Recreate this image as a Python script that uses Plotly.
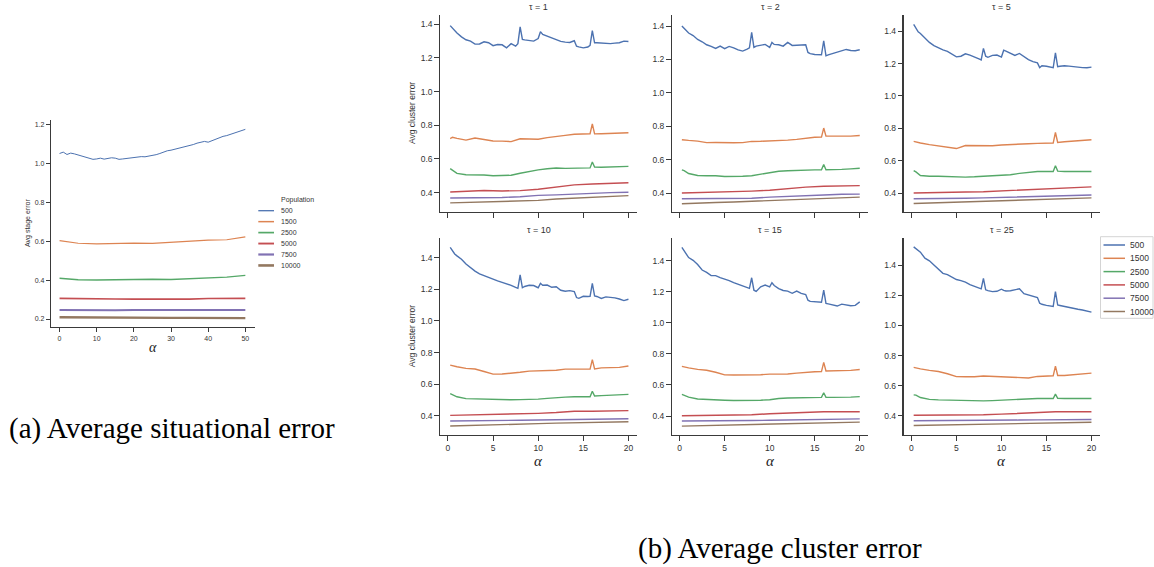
import plotly.graph_objects as go

W, H = 1154, 567

# ---------------- data ----------------
populations = ["500", "1500", "2500", "5000", "7500", "10000"]
colors = ["#4C72B0", "#DD8452", "#55A868", "#C44E52", "#8172B3", "#937860"]
taus = ["1", "2", "5", "10", "15", "25"]

# panel (a): average situational (stage) error vs alpha
alpha_a_fine = list(range(0, 51))
alpha_a = [0, 5, 10, 15, 20, 25, 30, 35, 40, 45, 50]
a_500 = [1.05, 1.057, 1.045, 1.052, 1.048, 1.042, 1.035, 1.028, 1.022, 1.02, 1.022,
         1.026, 1.021, 1.024, 1.028, 1.026, 1.02, 1.022, 1.025, 1.027, 1.03, 1.032,
         1.034, 1.033, 1.036, 1.04, 1.044, 1.05, 1.058, 1.064, 1.067, 1.072, 1.076,
         1.078, 1.085, 1.09, 1.096, 1.103, 1.108, 1.112, 1.108, 1.115, 1.124, 1.133,
         1.138, 1.142, 1.148, 1.155, 1.162, 1.168, 1.174]
a_1500 = [0.603, 0.589, 0.586, 0.588, 0.59, 0.588, 0.594, 0.602, 0.605, 0.607, 0.622]
a_2500 = [0.409, 0.402, 0.4, 0.402, 0.404, 0.404, 0.403, 0.406, 0.41, 0.415, 0.424]
a_5000 = [0.306, 0.304, 0.305, 0.303, 0.302, 0.301, 0.302, 0.302, 0.305, 0.304, 0.306]
a_7500 = [0.246, 0.245, 0.245, 0.245, 0.246, 0.246, 0.246, 0.247, 0.247, 0.245, 0.246]
a_10000 = [0.209, 0.208, 0.207, 0.207, 0.206, 0.206, 0.206, 0.206, 0.206, 0.205, 0.205]

# panel (b): average cluster error vs alpha, one subplot per tau
alpha_b_fine = [0.25, 0.5, 0.75, 1, 1.5, 2, 2.5, 3, 3.5, 4, 4.5, 5, 5.5, 6, 6.5, 7, 7.5,
                7.75, 8, 8.25, 8.5, 9, 9.5, 10, 10.25, 10.5, 11, 11.5, 12, 12.5, 13,
                13.5, 14, 14.25, 14.5, 15, 15.5, 15.75, 16, 16.25, 16.5, 17, 17.5, 18,
                18.5, 19, 19.5, 20]
alpha_b_mid = [0.25, 0.5, 1, 2, 3, 4, 5, 6, 7, 8, 9, 10, 11, 12, 13, 14, 15, 15.75,
               16, 16.25, 17, 18, 19, 20]
alpha_b_coarse = [0.25, 2, 4, 6, 8, 10, 12, 14, 16, 18, 20]

t1_500 = [1.392, 1.375, 1.358, 1.348, 1.325, 1.308, 1.30, 1.282, 1.283, 1.296, 1.29,
          1.273, 1.28, 1.278, 1.26, 1.285, 1.27, 1.285, 1.384, 1.31, 1.307, 1.304,
          1.30, 1.315, 1.356, 1.34, 1.33, 1.318, 1.312, 1.298, 1.294, 1.292, 1.302,
          1.27, 1.266, 1.26, 1.265, 1.275, 1.362, 1.29, 1.29, 1.288, 1.288, 1.285,
          1.288, 1.29, 1.30, 1.298]
t2_500 = [1.40, 1.385, 1.372, 1.358, 1.343, 1.32, 1.306, 1.288, 1.278, 1.266, 1.28,
          1.265, 1.278, 1.27, 1.257, 1.25, 1.262, 1.27, 1.362, 1.272, 1.28, 1.287,
          1.29, 1.272, 1.302, 1.29, 1.288, 1.28, 1.302, 1.284, 1.284, 1.285, 1.288,
          1.242, 1.235, 1.23, 1.228, 1.228, 1.312, 1.222, 1.228, 1.237, 1.242, 1.255,
          1.26, 1.254, 1.252, 1.258]
t5_500 = [1.441, 1.42, 1.395, 1.385, 1.358, 1.33, 1.31, 1.295, 1.284, 1.275, 1.26,
          1.241, 1.245, 1.26, 1.252, 1.242, 1.228, 1.222, 1.293, 1.245, 1.238, 1.25,
          1.252, 1.24, 1.282, 1.276, 1.262, 1.25, 1.262, 1.241, 1.224, 1.212, 1.204,
          1.175, 1.186, 1.183, 1.176, 1.174, 1.266, 1.18, 1.183, 1.186, 1.184, 1.18,
          1.177, 1.175, 1.174, 1.178]
t10_500 = [1.465, 1.44, 1.424, 1.412, 1.39, 1.36, 1.336, 1.315, 1.298, 1.286, 1.275,
           1.263, 1.253, 1.244, 1.235, 1.225, 1.212, 1.206, 1.291, 1.21, 1.218, 1.226,
           1.224, 1.21, 1.238, 1.226, 1.227, 1.213, 1.216, 1.194, 1.188, 1.192, 1.186,
           1.148, 1.143, 1.156, 1.155, 1.156, 1.238, 1.158, 1.155, 1.142, 1.152, 1.15,
           1.146, 1.139, 1.129, 1.137]
t15_500 = [1.485, 1.462, 1.447, 1.42, 1.402, 1.375, 1.34, 1.325, 1.304, 1.304, 1.291,
           1.283, 1.272, 1.259, 1.248, 1.238, 1.226, 1.222, 1.29, 1.21, 1.202, 1.232,
           1.243, 1.232, 1.258, 1.24, 1.22, 1.208, 1.204, 1.19, 1.204, 1.19, 1.182,
           1.146, 1.138, 1.134, 1.131, 1.132, 1.211, 1.125, 1.122, 1.114, 1.108, 1.12,
           1.116, 1.11, 1.112, 1.135]
t25_500 = [1.52, 1.507, 1.498, 1.485, 1.445, 1.428, 1.40, 1.375, 1.345, 1.337, 1.318,
           1.304, 1.297, 1.287, 1.27, 1.259, 1.248, 1.242, 1.312, 1.236, 1.23, 1.224,
           1.226, 1.24, 1.232, 1.228, 1.23, 1.238, 1.242, 1.21, 1.2, 1.19, 1.185,
           1.147, 1.14, 1.133, 1.127, 1.125, 1.224, 1.135, 1.132, 1.125, 1.117, 1.112,
           1.107, 1.102, 1.094, 1.088]

t1_1500 = [0.721, 0.729, 0.722, 0.712, 0.724, 0.716, 0.707, 0.706, 0.703, 0.72, 0.72,
           0.717, 0.727, 0.732, 0.74, 0.747, 0.75, 0.75, 0.808, 0.749, 0.75, 0.751,
           0.754, 0.756]
t2_1500 = [0.72, 0.718, 0.716, 0.712, 0.703, 0.704, 0.701, 0.702, 0.703, 0.71, 0.711,
           0.712, 0.713, 0.718, 0.722, 0.73, 0.735, 0.736, 0.79, 0.742, 0.741, 0.74,
           0.742, 0.745]
t5_1500 = [0.72, 0.716, 0.71, 0.70, 0.693, 0.684, 0.676, 0.695, 0.695, 0.696, 0.693,
           0.698, 0.702, 0.703, 0.706, 0.708, 0.71, 0.71, 0.775, 0.714, 0.718, 0.722,
           0.726, 0.73]
t10_1500 = [0.72, 0.716, 0.71, 0.70, 0.696, 0.68, 0.663, 0.664, 0.668, 0.675, 0.682,
            0.685, 0.684, 0.688, 0.695, 0.695, 0.695, 0.695, 0.755, 0.696, 0.703, 0.704,
            0.706, 0.715]
t15_1500 = [0.72, 0.716, 0.71, 0.70, 0.695, 0.682, 0.665, 0.664, 0.664, 0.662, 0.666,
            0.67, 0.67, 0.671, 0.676, 0.682, 0.685, 0.686, 0.745, 0.69, 0.69, 0.69,
            0.694, 0.70]
t25_1500 = [0.722, 0.718, 0.712, 0.702, 0.695, 0.68, 0.661, 0.66, 0.66, 0.665, 0.662,
            0.66, 0.656, 0.652, 0.652, 0.662, 0.665, 0.666, 0.73, 0.668, 0.668, 0.675,
            0.682, 0.684]

t1_2500 = [0.543, 0.535, 0.514, 0.506, 0.507, 0.505, 0.50, 0.50, 0.503, 0.515, 0.526,
           0.535, 0.542, 0.546, 0.544, 0.544, 0.546, 0.547, 0.582, 0.552, 0.551, 0.552,
           0.557, 0.556]
t2_2500 = [0.54, 0.535, 0.518, 0.506, 0.505, 0.505, 0.50, 0.50, 0.502, 0.505, 0.515,
           0.525, 0.532, 0.535, 0.538, 0.54, 0.54, 0.54, 0.572, 0.541, 0.541, 0.543,
           0.546, 0.55]
t5_2500 = [0.54, 0.532, 0.51, 0.505, 0.505, 0.503, 0.50, 0.50, 0.502, 0.505, 0.505,
           0.51, 0.515, 0.523, 0.528, 0.535, 0.535, 0.535, 0.57, 0.537, 0.535, 0.535,
           0.535, 0.535]
t10_2500 = [0.54, 0.535, 0.52, 0.508, 0.506, 0.505, 0.501, 0.50, 0.501, 0.502, 0.503,
            0.505, 0.51, 0.515, 0.518, 0.52, 0.52, 0.52, 0.555, 0.525, 0.527, 0.53,
            0.532, 0.535]
t15_2500 = [0.54, 0.535, 0.522, 0.51, 0.506, 0.505, 0.502, 0.50, 0.50, 0.501, 0.502,
            0.505, 0.513, 0.516, 0.518, 0.52, 0.52, 0.52, 0.55, 0.52, 0.52, 0.52,
            0.522, 0.525]
t25_2500 = [0.54, 0.538, 0.522, 0.51, 0.507, 0.505, 0.503, 0.502, 0.501, 0.50, 0.502,
            0.505, 0.51, 0.515, 0.515, 0.516, 0.516, 0.516, 0.545, 0.517, 0.516, 0.516,
            0.516, 0.516]

t1_5000 = [0.404, 0.408, 0.413, 0.41, 0.412, 0.42, 0.435, 0.446, 0.451, 0.453, 0.459]
t2_5000 = [0.402, 0.404, 0.41, 0.409, 0.413, 0.418, 0.428, 0.437, 0.442, 0.445, 0.446]
t5_5000 = [0.402, 0.405, 0.407, 0.408, 0.41, 0.415, 0.42, 0.427, 0.432, 0.435, 0.44]
t10_5000 = [0.402, 0.404, 0.405, 0.407, 0.41, 0.415, 0.42, 0.428, 0.428, 0.428, 0.432]
t15_5000 = [0.402, 0.403, 0.405, 0.406, 0.408, 0.415, 0.42, 0.426, 0.428, 0.428, 0.428]
t25_5000 = [0.405, 0.405, 0.405, 0.407, 0.408, 0.412, 0.418, 0.425, 0.428, 0.428, 0.428]

t1_7500 = [0.368, 0.368, 0.37, 0.371, 0.376, 0.384, 0.387, 0.392, 0.396, 0.40, 0.402]
t2_7500 = [0.367, 0.367, 0.368, 0.368, 0.37, 0.377, 0.38, 0.385, 0.39, 0.394, 0.395]
t5_7500 = [0.367, 0.367, 0.369, 0.37, 0.372, 0.375, 0.378, 0.38, 0.383, 0.386, 0.39]
t10_7500 = [0.367, 0.367, 0.369, 0.37, 0.371, 0.373, 0.374, 0.376, 0.378, 0.38, 0.381]
t15_7500 = [0.368, 0.368, 0.369, 0.37, 0.371, 0.373, 0.375, 0.377, 0.378, 0.38, 0.382]
t25_7500 = [0.368, 0.368, 0.369, 0.37, 0.371, 0.372, 0.373, 0.374, 0.375, 0.376, 0.377]

t1_10000 = [0.339, 0.342, 0.345, 0.347, 0.349, 0.354, 0.362, 0.368, 0.372, 0.378, 0.382]
t2_10000 = [0.337, 0.342, 0.345, 0.348, 0.352, 0.355, 0.358, 0.366, 0.37, 0.374, 0.377]
t5_10000 = [0.337, 0.34, 0.343, 0.346, 0.349, 0.352, 0.355, 0.36, 0.364, 0.368, 0.372]
t10_10000 = [0.335, 0.337, 0.34, 0.343, 0.346, 0.35, 0.353, 0.355, 0.358, 0.36, 0.362]
t15_10000 = [0.335, 0.337, 0.34, 0.342, 0.345, 0.348, 0.351, 0.354, 0.357, 0.359, 0.361]
t25_10000 = [0.337, 0.339, 0.341, 0.343, 0.345, 0.348, 0.351, 0.354, 0.356, 0.357, 0.358]

a_x_ticks = [0, 10, 20, 30, 40, 50]
a_y_ticks = [0.2, 0.4, 0.6, 0.8, 1.0, 1.2]
b_x_ticks = [0, 5, 10, 15, 20]
b_y_ticks = [0.4, 0.6, 0.8, 1.0, 1.2, 1.4]

# ---------------- layout helpers ----------------
def fx(px):
    return px / W


def fy(py):
    return 1 - py / H


SANS = "Liberation Sans, Arial, sans-serif"
SERIF = "Liberation Serif, Times New Roman, serif"
AXC = "#3a3a3a"
TXT = "#333333"

fig = go.Figure()

# panel (a)
a_series = [(alpha_a_fine, a_500), (alpha_a, a_1500), (alpha_a, a_2500),
            (alpha_a, a_5000), (alpha_a, a_7500), (alpha_a, a_10000)]
a_widths = [1.0, 1.2, 1.4, 1.6, 1.9, 2.3]
for i, (xs, ys) in enumerate(a_series):
    fig.add_trace(go.Scatter(x=xs, y=ys, mode="lines", name=populations[i],
                             line=dict(color=colors[i], width=a_widths[i]),
                             xaxis="x", yaxis="y", showlegend=False))

# panel (b)
b_data = {
    "1": [t1_500, t1_1500, t1_2500, t1_5000, t1_7500, t1_10000],
    "2": [t2_500, t2_1500, t2_2500, t2_5000, t2_7500, t2_10000],
    "5": [t5_500, t5_1500, t5_2500, t5_5000, t5_7500, t5_10000],
    "10": [t10_500, t10_1500, t10_2500, t10_5000, t10_7500, t10_10000],
    "15": [t15_500, t15_1500, t15_2500, t15_5000, t15_7500, t15_10000],
    "25": [t25_500, t25_1500, t25_2500, t25_5000, t25_7500, t25_10000],
}
b_xgrids = [alpha_b_fine, alpha_b_mid, alpha_b_mid, alpha_b_coarse, alpha_b_coarse,
            alpha_b_coarse]

col_px = [(440, 637), (671.7, 868.3), (903.5, 1100)]
row_px = [(15, 212), (238.3, 435)]
y_ranges = [[0.285, 1.455], [0.288, 1.466], [0.285, 1.499],
            [0.278, 1.523], [0.278, 1.544], [0.274, 1.577]]
x_range_b = [-0.88, 20.95]

layout_axes = {}
layout_axes["xaxis"] = dict(domain=[fx(51), fx(255)], range=[-2.3, 52.6],
                            anchor="y", tickvals=a_x_ticks)
layout_axes["yaxis"] = dict(domain=[fy(327), fy(120)], range=[0.159, 1.222],
                            anchor="x", tickvals=a_y_ticks,
                            ticktext=[f"{v:.1f}" for v in a_y_ticks])

annotations = []
shapes = []

for k, tau in enumerate(taus):
    r, c = divmod(k, 3)
    n = k + 2
    xa, ya = f"x{n}", f"y{n}"
    for i, ys in enumerate(b_data[tau]):
        fig.add_trace(go.Scatter(x=b_xgrids[i], y=ys, mode="lines",
                                 name=populations[i],
                                 line=dict(color=colors[i], width=1.4),
                                 xaxis=xa, yaxis=ya, showlegend=False))
    x0, x1 = col_px[c]
    y0, y1 = row_px[r]
    layout_axes[f"xaxis{n}"] = dict(domain=[fx(x0), fx(x1)], range=x_range_b,
                                    anchor=ya, tickvals=b_x_ticks,
                                    showticklabels=(r == 1))
    layout_axes[f"yaxis{n}"] = dict(domain=[fy(y1), fy(y0)], range=y_ranges[k],
                                    anchor=xa, tickvals=b_y_ticks,
                                    ticktext=[f"{v:.1f}" for v in b_y_ticks])
    annotations.append(dict(text=f"τ = {tau}", x=fx((x0 + x1) / 2), y=fy(y0 - 8),
                            xref="paper", yref="paper", showarrow=False,
                            font=dict(family=SANS, size=9, color=TXT),
                            xanchor="center", yanchor="middle"))
    if c == 0:
        annotations.append(dict(text="Avg cluster error", x=fx(411.5),
                                y=fy((y0 + y1) / 2), xref="paper", yref="paper",
                                showarrow=False, textangle=-90,
                                font=dict(family=SANS, size=8.5, color=TXT),
                                xanchor="center", yanchor="middle"))
    if r == 1:
        annotations.append(dict(text="<i>α</i>", x=fx((x0 + x1) / 2), y=fy(461),
                                xref="paper", yref="paper", showarrow=False,
                                font=dict(family=SERIF, size=15, color="#222"),
                                xanchor="center", yanchor="middle"))

for name, ax in layout_axes.items():
    small = name in ("xaxis", "yaxis")
    ax.update(showline=True, linecolor=AXC, linewidth=1.2, ticks="outside",
              ticklen=4 if small else 4.5, tickwidth=1, tickcolor=AXC,
              showgrid=False, zeroline=False,
              tickfont=dict(family=SANS, size=7 if small else 8.5, color=TXT))
fig.update_layout(**layout_axes)

# panel (a) axis labels
annotations.append(dict(text="Avg stage error", x=fx(27.5), y=fy(223.5),
                        xref="paper", yref="paper", showarrow=False, textangle=-90,
                        font=dict(family=SANS, size=7, color=TXT),
                        xanchor="center", yanchor="middle"))
annotations.append(dict(text="<i>α</i>", x=fx(153), y=fy(347), xref="paper",
                        yref="paper", showarrow=False,
                        font=dict(family=SERIF, size=14, color="#222"),
                        xanchor="center", yanchor="middle"))

# legend for panel (a)
annotations.append(dict(text="Population", x=fx(278.5), y=fy(200), xref="paper",
                        yref="paper", showarrow=False, xanchor="left",
                        yanchor="middle", font=dict(family=SANS, size=7, color=TXT)))
for i, pop in enumerate(populations):
    yy = 210.7 + 10.95 * i
    shapes.append(dict(type="line", xref="paper", yref="paper", x0=fx(258.3),
                       x1=fx(274), y0=fy(yy), y1=fy(yy),
                       line=dict(color=colors[i], width=a_widths[i] + 0.3)))
    annotations.append(dict(text=pop, x=fx(278.5), y=fy(yy), xref="paper",
                            yref="paper", showarrow=False, xanchor="left",
                            yanchor="middle",
                            font=dict(family=SANS, size=7, color=TXT)))

# legend for panel (b)
shapes.append(dict(type="rect", xref="paper", yref="paper", x0=fx(1100.5),
                   x1=fx(1153), y0=fy(318.3), y1=fy(236.7),
                   line=dict(color="#d4d4d4", width=1), fillcolor="white"))
for i, pop in enumerate(populations):
    yy = 245 + 13.3 * i
    shapes.append(dict(type="line", xref="paper", yref="paper", x0=fx(1103.5),
                       x1=fx(1125), y0=fy(yy), y1=fy(yy),
                       line=dict(color=colors[i], width=1.5)))
    annotations.append(dict(text=pop, x=fx(1128), y=fy(yy), xref="paper",
                            yref="paper", showarrow=False, xanchor="left",
                            yanchor="middle",
                            font=dict(family=SANS, size=8.5, color=TXT)))

# captions
annotations.append(dict(text="(a) Average situational error", x=fx(7), y=fy(428),
                        xref="paper", yref="paper", showarrow=False, xanchor="left",
                        yanchor="middle",
                        font=dict(family=SERIF, size=29, color="black")))
annotations.append(dict(text="(b) Average cluster error", x=fx(780), y=fy(548),
                        xref="paper", yref="paper", showarrow=False,
                        xanchor="center", yanchor="middle",
                        font=dict(family=SERIF, size=29, color="black")))

fig.update_layout(width=W, height=H, margin=dict(l=0, r=0, t=0, b=0),
                  paper_bgcolor="white", plot_bgcolor="white",
                  annotations=annotations, shapes=shapes, showlegend=False)

fig.write_html(
    "out.html",
    config={"displayModeBar": False, "staticPlot": True},
    post_script="document.body.style.margin='0';document.body.style.padding='0';"
                "document.body.style.overflow='hidden';"
                "document.documentElement.style.overflow='hidden';",
)
